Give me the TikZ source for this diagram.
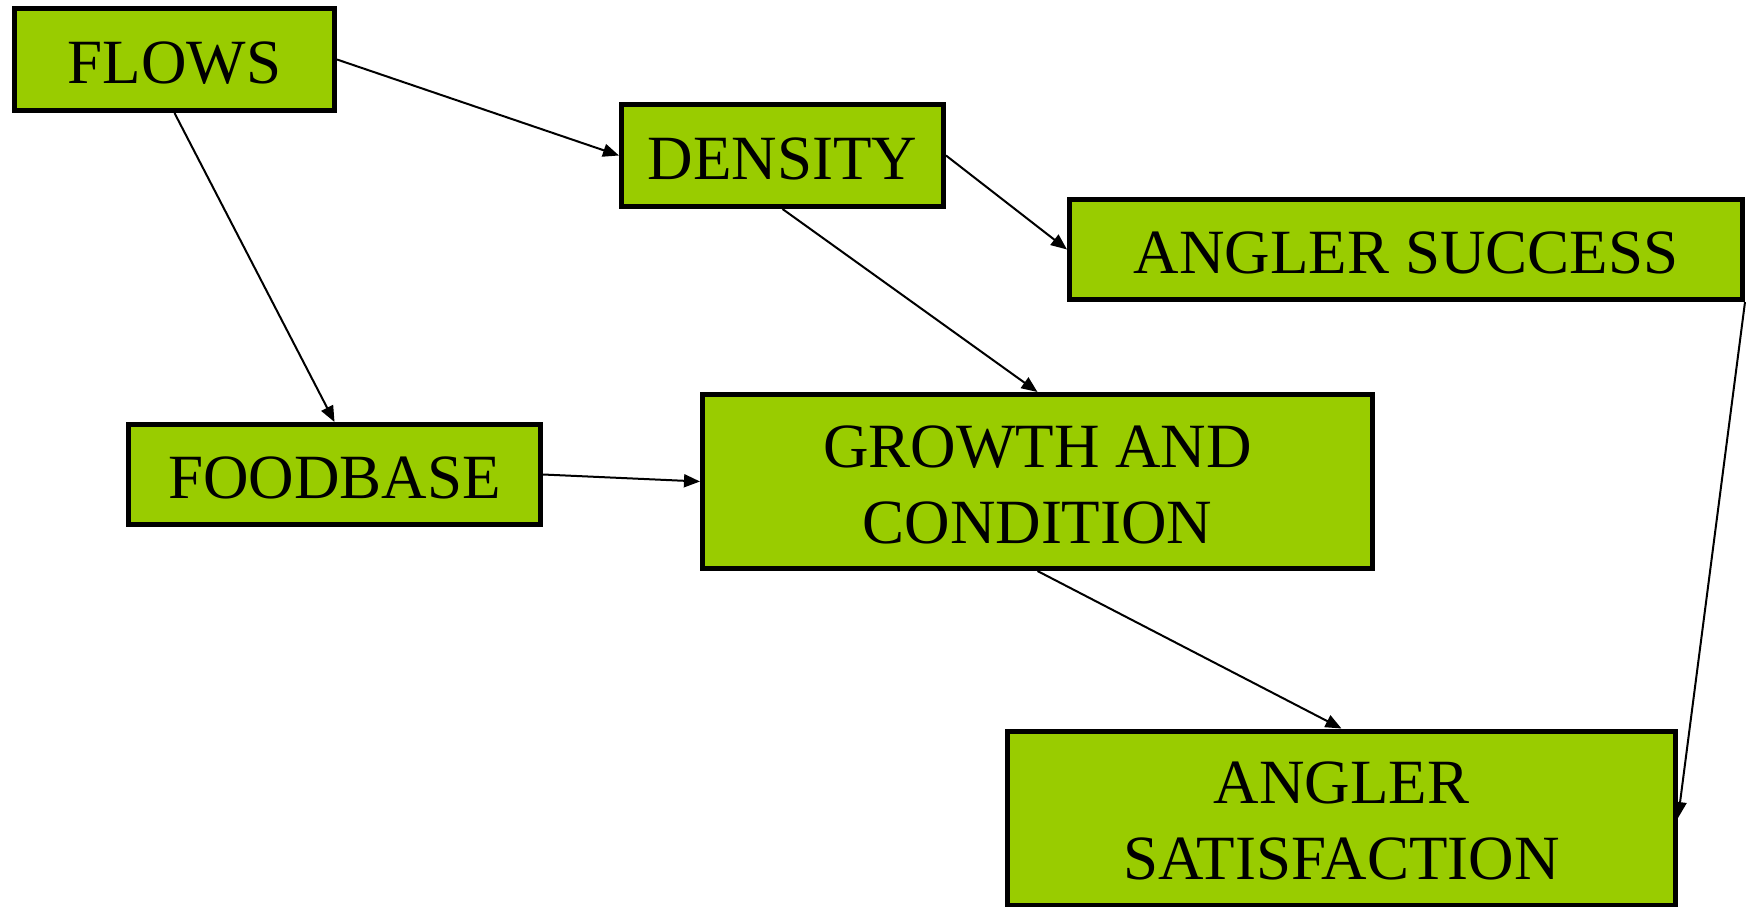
\documentclass[tikz,border=0pt]{standalone}
\usepackage{fontspec}
\setmainfont{Liberation Serif}
\usetikzlibrary{arrows.meta}
\definecolor{boxgreen}{RGB}{153,204,0}
\newcommand{\bajar}{\rule{0pt}{48pt}}
\tikzset{
  caja/.style={draw=black, line width=5pt, fill=boxgreen, inner sep=0pt,
    align=center, font=\fontsize{63}{76}\selectfont},
  flecha/.style={line width=2pt, -{Triangle[length=16pt,width=13pt]}}
}
\begin{document}
\begin{tikzpicture}[x=1pt,y=-1pt]
\useasboundingbox (0,0) rectangle (1746,907);

% Cajas
\node[caja, minimum width=320pt, minimum height=102pt] (flows) at (174.5,59.5) {\bajar FLOWS};
\node[caja, minimum width=322pt, minimum height=102pt] (density) at (782.5,155.5) {\bajar DENSITY};
\node[caja, minimum width=673pt, minimum height=100pt] (success) at (1406,249.5) {\bajar ANGLER SUCCESS};
\node[caja, minimum width=412pt, minimum height=100pt] (foodbase) at (334.5,474.5) {\bajar FOODBASE};
\node[caja, minimum width=670pt, minimum height=174pt] (growth) at (1037.5,481.5) {\bajar GROWTH AND\\CONDITION};
\node[caja, minimum width=668pt, minimum height=174pt] (satisf) at (1341.5,818) {\bajar ANGLER\\SATISFACTION};

% Flechas
\draw[flecha] (flows.east) -- (density.west);
\draw[flecha] (flows.south) -- (foodbase.north);
\draw[flecha] (density.east) -- (success.west);
\draw[flecha] (density.south) -- (growth.north);
\draw[flecha] (foodbase.east) -- (growth.west);
\draw[flecha] (growth.south) -- (satisf.north);
\draw[flecha] (success.south east) -- (satisf.east);
\end{tikzpicture}
\end{document}
